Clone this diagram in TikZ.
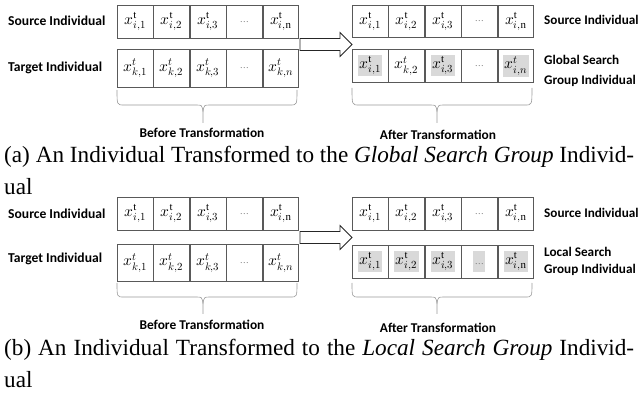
\documentclass[tikz,border=0pt]{standalone}
\usepackage{fontspec}
\usepackage{unicode-math}
\setmainfont{Liberation Serif}
\setmathfont{Latin Modern Math}
\newfontfamily\lblfont{Carlito}
\definecolor{shadegray}{HTML}{D9D9D9}
\definecolor{cellline}{HTML}{595959}
\newcommand\xsrc[1]{$x^{\mathrm{t}}_{i,#1}$}
\newcommand\xtgt[1]{$x^{t}_{k,#1}$}
\newcommand\xsrcit[1]{$x^{t}_{i,#1}$}
\newcommand\shd[1]{{\setlength{\fboxsep}{1.5pt}\colorbox{shadegray}{#1}}}
\newcommand\celldots{{\color{black!60}\fontsize{9}{10}\selectfont\dots}}
\newcommand\cellrow[9]{%
  \node[cell, minimum height=#4] (#1-1) at (#2,#3) {#5};
  \node[cell, minimum height=#4] (#1-2) at (#1-1.north east) {#6};
  \node[cell, minimum height=#4] (#1-3) at (#1-2.north east) {#7};
  \node[cell, minimum height=#4] (#1-4) at (#1-3.north east) {#8};
  \node[cell, minimum height=#4] (#1-5) at (#1-4.north east) {#9};
}
\newcommand\bracedraw[6]{% x1, x2, xtip, ytop, yh, ytip
  \draw[bracestyle] (#1,#4) .. controls (#1,#5) .. (#1+7,#5) -- (#3-7,#5)
     .. controls (#3-1,#5) .. (#3,#5+7) -- (#3,#6);
  \draw[bracestyle] (#2,#4) .. controls (#2,#5) .. (#2-7,#5) -- (#3+7,#5)
     .. controls (#3+1,#5) .. (#3,#5+7);
}
\tikzset{
  cell/.style={draw=cellline, line width=0.6pt, inner sep=0pt, anchor=north west,
    minimum width=35.8pt, font=\fontsize{15.5}{17}\selectfont},
  lbl/.style={font=\lblfont\bfseries\fontsize{13.6}{16}\selectfont, inner sep=0pt, anchor=west},
  rlbl/.style={font=\lblfont\bfseries\fontsize{13.2}{16}\selectfont, inner sep=0pt, anchor=west},
  ctr/.style={font=\lblfont\bfseries\fontsize{13.4}{16}\selectfont, inner sep=0pt},
  bracestyle/.style={draw=black!40, line width=0.6pt},
  captext/.style={font=\fontsize{23.2}{28}\selectfont, inner sep=0pt, anchor=west},
  arrowbox/.style={draw=black!85, line width=0.8pt, fill=white, line join=miter}
}
\begin{document}
\begin{tikzpicture}[x=1pt,y=-1pt]
\useasboundingbox (0,0) rectangle (641,393);
% ---------------- panel (a)
\node[lbl] (aS) at (8,21) {Source Individual};
\node[lbl] (aT) at (8,68) {Target Individual};
\cellrow{aL1}{117}{5}{33pt}{\xsrc1}{\xsrc2}{\xsrc3}{\celldots}{\xsrc{\mathrm{n}}}
\cellrow{aL2}{117}{49}{38pt}{\xtgt1}{\xtgt2}{\xtgt3}{\celldots}{\xtgt{n}}
\cellrow{aR1}{352}{5}{32pt}{\xsrc1}{\xsrc2}{\xsrc3}{\celldots}{\xsrc{\mathrm{n}}}
\cellrow{aR2}{352}{49}{33pt}{\shd{\xsrc1}}{\xtgt2}{\shd{\xsrc3}}{\celldots}{\shd{\xsrcit{n}}}
\node[rlbl] (aRS) at (544,20) {Source Individual};
\node[rlbl] (aRG1) at (544,60) {Global Search};
\node[rlbl] (aRG2) at (544,81) {Group Individual};
\draw[arrowbox] (300,38.5) -- (340,38.5) -- (340,32.5) -- (352,44.5) -- (340,56.5) -- (340,50.5) -- (300,50.5) -- cycle;
\bracedraw{117}{297}{203}{90}{105}{123}
\bracedraw{352}{532}{437}{88}{105}{123}
\node[ctr] (aB) at (202,133) {Before Transformation};
\node[ctr] (aA) at (438,135) {After Transformation};
\node[captext] (aC1) at (4,157) {\makebox[630pt][s]{(a) An Individual Transformed to the \textit{Global Search Group} Individ-}};
\node[captext] (aC2) at (4,187) {ual};
% ---------------- panel (b)
\node[lbl] (bS) at (8,214) {Source Individual};
\node[lbl] (bT) at (8,259) {Target Individual};
\cellrow{bL1}{117}{197}{33pt}{\xsrc1}{\xsrc2}{\xsrc3}{\celldots}{\xsrc{\mathrm{n}}}
\cellrow{bL2}{117}{244}{37pt}{\xtgt1}{\xtgt2}{\xtgt3}{\celldots}{\xtgt{n}}
\cellrow{bR1}{352}{197}{33pt}{\xsrc1}{\xsrc2}{\xsrc3}{\celldots}{\xsrc{\mathrm{n}}}
\cellrow{bR2}{352}{245}{33pt}{\shd{\xsrc1}}{\shd{\xsrc2}}{\shd{\xsrc3}}{\shd{\vphantom{\xsrc1}\celldots}}{\shd{\xsrc{\mathrm{n}}}}
\node[rlbl] (bRS) at (544,213) {Source Individual};
\node[rlbl] (bRG1) at (544,252) {Local Search};
\node[rlbl] (bRG2) at (544,270) {Group Individual};
\draw[arrowbox] (300,231.5) -- (340,231.5) -- (340,225.5) -- (352,237.5) -- (340,249.5) -- (340,243.5) -- (300,243.5) -- cycle;
\bracedraw{117}{297}{203}{283}{297}{314}
\bracedraw{352}{532}{437}{283}{297}{314}
\node[ctr] (bB) at (202,325) {Before Transformation};
\node[ctr] (bA) at (438,328) {After Transformation};
\node[captext] (bC1) at (4,350) {\makebox[630pt][s]{(b) An Individual Transformed to the \textit{Local Search Group} Individ-}};
\node[captext] (bC2) at (4,380) {ual};
\end{tikzpicture}
\end{document}
